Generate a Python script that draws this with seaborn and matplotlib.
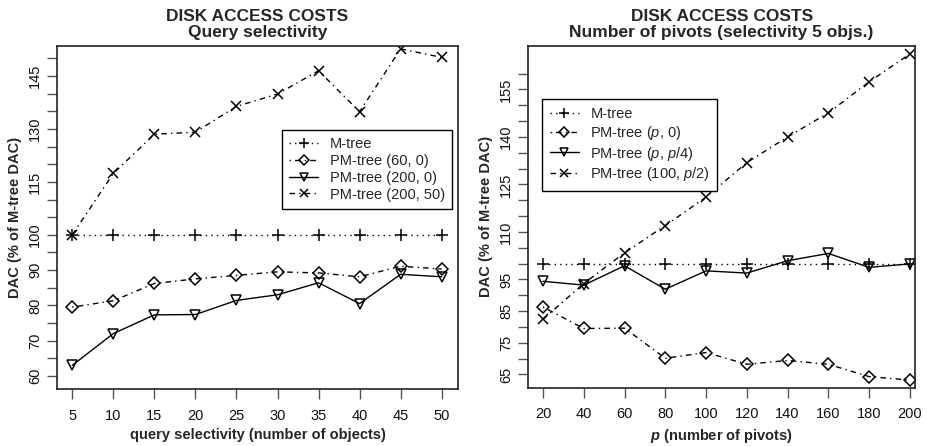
import seaborn as sns
import matplotlib.pyplot as plt

# Left panel: query selectivity
selectivity = [5, 10, 15, 20, 25, 30, 35, 40, 45, 50]
mtree_sel = [100, 100, 100, 100, 100, 100, 100, 100, 100, 100]
pm_60_0 = [79.5, 81.3, 86.2, 87.5, 88.5, 89.5, 89.2, 88.1, 91.1, 90.3]
pm_200_0 = [63.0, 72.0, 77.3, 77.4, 81.4, 83.0, 86.4, 80.5, 88.8, 88.1]
pm_200_50 = [100, 117.4, 128.5, 129.1, 136.4, 139.9, 146.5, 134.9, 152.7, 150.3]

# Right panel: number of pivots
pivots = [20, 40, 60, 80, 100, 120, 140, 160, 180, 200]
mtree_piv = [100, 100, 100, 100, 100, 100, 100, 100, 100, 100]
pm_p_0 = [86.3, 79.5, 79.6, 70.1, 71.9, 68.2, 69.4, 68.2, 64.3, 63.2]
pm_p_p4 = [94.4, 93.2, 99.3, 91.9, 97.7, 97.0, 100.9, 103.2, 98.8, 99.9]
pm_100_p2 = [82.4, 93.7, 103.4, 112.0, 121.0, 131.9, 140.0, 147.6, 157.4, 166.2]

left_labels = ["M-tree", "PM-tree (60, 0)", "PM-tree (200, 0)", "PM-tree (200, 50)"]
right_labels = ["M-tree", "PM-tree ($p$, 0)", "PM-tree ($p$, $p$/4)", "PM-tree (100, $p$/2)"]

sns.set_style("ticks")
plt.rcParams['font.family'] = ['Liberation Sans', 'DejaVu Sans']
plt.rcParams['mathtext.fontset'] = 'custom'
plt.rcParams['mathtext.rm'] = 'Liberation Sans'
plt.rcParams['mathtext.it'] = 'Liberation Sans:italic'
plt.rcParams['mathtext.bf'] = 'Liberation Sans:bold'
plt.rcParams['mathtext.bfit'] = 'Liberation Sans:italic:bold'

# marker / line style per series (M-tree, diamonds, triangles, crosses)
styles = [
    dict(marker='+', linestyle=(0, (1, 3)), ms=9, mew=1.1),
    dict(marker='D', linestyle=(0, (1, 3, 4, 3)), ms=6.5, mew=1.1),
    dict(marker='v', linestyle='-', ms=7, mew=1.1),
    dict(marker='x', linestyle=(0, (4, 3, 1, 3)), ms=7, mew=1.1),
]

fig = plt.figure(figsize=(9.28, 4.46), dpi=100)
ax1 = fig.add_axes([0.0617, 0.1271, 0.4315, 0.7704])
ax2 = fig.add_axes([0.5693, 0.1300, 0.4167, 0.7675])


def draw(ax, x, series, labels):
    for y, lab, st in zip(series, labels, styles):
        sns.lineplot(x=x, y=y, ax=ax, color='black', lw=1.0, label=lab,
                     mfc='none', mec='black', **st)


draw(ax1, selectivity, [mtree_sel, pm_60_0, pm_200_0, pm_200_50], left_labels)
draw(ax2, pivots, [mtree_piv, pm_p_0, pm_p_p4, pm_100_p2], right_labels)

ax1.set_xlim(3.17, 51.95)
ax1.set_ylim(56.2, 153.6)
ax1.set_xticks(selectivity)
yt1 = list(range(60, 151, 5))
ax1.set_yticks(yt1)
ax1.set_yticklabels([str(v) if v in (60, 70, 80, 90, 100, 115, 130, 145) else '' for v in yt1])

ax2.set_xlim(12.8, 202.5)
ax2.set_ylim(60.7, 168.8)
ax2.set_xticks(pivots)
yt2 = list(range(65, 161, 5))
ax2.set_yticks(yt2)
ax2.set_yticklabels([str(v) if v in (65, 75, 85, 95, 110, 125, 140, 155) else '' for v in yt2])

for ax in (ax1, ax2):
    for s in ax.spines.values():
        s.set_visible(True)
        s.set_linewidth(1.2)
        s.set_color('#222222')
    ax.tick_params(direction='out', length=7, width=1, color='#555555',
                   labelsize=10.5, labelcolor='#111111', pad=4)
    ax.tick_params(axis='x', pad=7)
    ax.tick_params(axis='y', labelrotation=90)
    for t in ax.get_yticklabels():
        t.set_va('center')
    ax.set_ylabel("DAC (% of M-tree DAC)", fontsize=10.5, fontweight='bold', labelpad=4)

ax1.set_xlabel("query selectivity (number of objects)", fontsize=10.5, fontweight='bold', labelpad=4)
ax2.set_xlabel(r"$\mathbfit{p}$ (number of pivots)", fontsize=10.5, fontweight='bold', labelpad=4)

ax1.set_title("DISK ACCESS COSTS\nQuery selectivity", fontsize=12.5, fontweight='bold',
              linespacing=1.1, pad=6)
ax2.set_title("DISK ACCESS COSTS\nNumber of pivots (selectivity 5 objs.)", fontsize=12.5,
              fontweight='bold', linespacing=1.1, pad=6)

leg_kw = dict(fontsize=10.5, frameon=True, fancybox=False, framealpha=1, edgecolor='black',
              handlelength=2.0, handletextpad=0.8, labelspacing=0.2, borderpad=0.5,
              borderaxespad=0, markerscale=0.85)
l1 = ax1.legend(loc='upper right', bbox_to_anchor=(0.987, 0.756), **leg_kw)
l2 = ax2.legend(loc='upper left', bbox_to_anchor=(0.036, 0.843), **leg_kw)
for lg in (l1, l2):
    lg.get_frame().set_linewidth(1.0)

plt.savefig("out.png", dpi=100)
